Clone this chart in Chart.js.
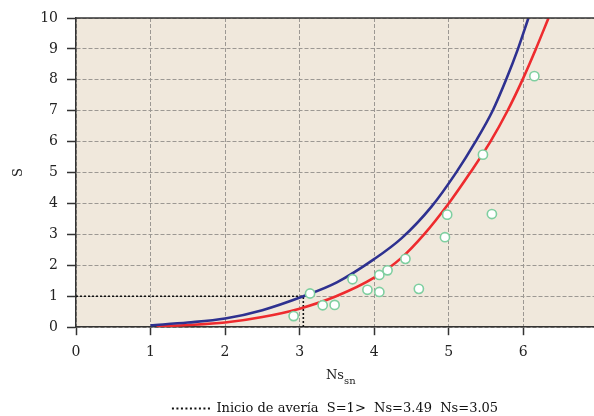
<!DOCTYPE html>
<html>
<head>
<meta charset="utf-8">
<script src="https://cdn.jsdelivr.net/npm/chart.js@4/dist/chart.umd.min.js"></script>
<style>
  html, body { margin: 0; padding: 0; background: #ffffff; overflow: hidden; }
  #wrap { width: 594px; height: 416px; position: relative; }
</style>
</head>
<body>
<div id="wrap"><canvas id="grafico" width="594" height="416"></canvas></div>
<script>
// Curva de avería (azul)
const azulNs = [1.0, 1.5, 2.0, 2.5, 3.05, 3.5, 4.0, 4.37, 4.77, 5.1, 5.36, 5.59, 5.77, 5.93, 6.07];
const azulS  = [0.06, 0.15, 0.28, 0.55, 1.0, 1.45, 2.2, 2.88, 3.9, 5.0, 6.0, 7.0, 8.0, 9.0, 10.0];

// Curva de avería (roja)
const rojaNs = [1.08, 1.5, 2.0, 2.5, 3.0, 3.49, 4.0, 4.37, 4.67, 5.0, 5.29, 5.56, 5.79, 5.99, 6.17, 6.34];
const rojaS  = [0.03, 0.07, 0.15, 0.33, 0.6, 1.0, 1.6, 2.25, 3.0, 4.0, 5.0, 6.0, 7.0, 8.0, 9.0, 10.0];

// Ensayos medidos
const ensayoNs = [2.92, 3.14, 3.31, 3.47, 3.71, 3.91, 4.07, 4.07, 4.18, 4.42, 4.60, 4.95, 4.98, 5.58, 5.46, 6.15];
const ensayoS  = [0.36, 1.09, 0.71, 0.72, 1.55, 1.21, 1.69, 1.14, 1.84, 2.21, 1.24, 2.91, 3.64, 3.66, 5.58, 8.12];

// Inicio de avería
const inicioNs = [0, 3.05, 3.05];
const inicioS  = [1, 1, 0];

const xTicks = [0, 1, 2, 3, 4, 5, 6];
const yTicks = [0, 1, 2, 3, 4, 5, 6, 7, 8, 9, 10];

const etiquetaInicio = 'Inicio de avería  S=1>  Ns=3.49  Ns=3.05';

const pares = (xs, ys) => xs.map((x, i) => ({ x: x, y: ys[i] }));

const FUENTE = '"DejaVu Serif", "Liberation Serif", serif';
const FONDO = '#f0e8dc';
const EJE = '#333333';
const REJILLA = '#9c9893';
const TITULO_PAD_INF = 20;
const TITULO_ALTO = 12;

const marco = {
  id: 'marco',
  beforeDraw(chart) {
    const { ctx, chartArea: a } = chart;
    ctx.save();
    ctx.fillStyle = FONDO;
    ctx.fillRect(a.left, a.top, a.right - a.left, a.bottom - a.top);
    ctx.restore();
  },
  afterDraw(chart) {
    const { ctx, chartArea: a } = chart;
    // borde superior
    ctx.save();
    ctx.strokeStyle = EJE;
    ctx.lineWidth = 1.5;
    ctx.beginPath();
    ctx.moveTo(a.left, a.top);
    ctx.lineTo(a.right, a.top);
    ctx.stroke();
    // título del eje x con subíndice: Ns_sn
    const ex = chart.scales.x;
    const yTxt = ex.bottom - TITULO_PAD_INF - TITULO_ALTO / 2;
    const cx = (a.left + a.right) / 2;
    ctx.fillStyle = '#222222';
    ctx.textBaseline = 'middle';
    ctx.textAlign = 'left';
    ctx.font = '13px ' + FUENTE;
    const w = ctx.measureText('Ns').width;
    ctx.fillText('Ns', cx - w / 2, yTxt);
    ctx.font = '10px ' + FUENTE;
    ctx.fillText('sn', cx + w / 2, yTxt + 5);
    ctx.restore();
  }
};

new Chart(document.getElementById('grafico'), {
  type: 'scatter',
  data: {
    datasets: [
      {
        label: etiquetaInicio,
        data: pares(inicioNs, inicioS),
        showLine: true,
        borderColor: '#111111',
        backgroundColor: '#111111',
        borderWidth: 1.6,
        borderDash: [2, 2],
        pointRadius: 0,
        order: 3
      },
      {
        label: 'azul',
        data: pares(azulNs, azulS),
        showLine: true,
        borderColor: '#2e3190',
        borderWidth: 2.6,
        pointRadius: 0,
        cubicInterpolationMode: 'monotone',
        order: 2
      },
      {
        label: 'roja',
        data: pares(rojaNs, rojaS),
        showLine: true,
        borderColor: '#ee2b2e',
        borderWidth: 2.6,
        pointRadius: 0,
        cubicInterpolationMode: 'monotone',
        order: 2
      },
      {
        label: 'ensayos',
        data: pares(ensayoNs, ensayoS),
        showLine: false,
        pointRadius: 4.6,
        pointBorderWidth: 1.6,
        pointBorderColor: '#7fcfa0',
        pointBackgroundColor: '#ffffff',
        order: 1
      }
    ]
  },
  options: {
    responsive: false,
    animation: false,
    layout: { autoPadding: false, padding: { left: 0, right: 0, top: 18, bottom: -9 } },
    scales: {
      x: {
        type: 'linear',
        min: 0,
        max: 6.95,
        afterBuildTicks: (s) => { s.ticks = xTicks.map(v => ({ value: v })); },
        afterFit: (s) => { s.paddingRight = 0; s.paddingLeft = 0; },
        ticks: { font: { family: FUENTE, size: 14 }, color: '#222222', padding: 9 },
        grid: { color: REJILLA, lineWidth: 1, tickColor: EJE, tickLength: 8, tickWidth: 1.5, tickBorderDash: [] },
        border: { color: EJE, width: 1.5, dash: [4, 2] },
        title: { display: true, text: 'Ns', color: 'rgba(0,0,0,0)', font: { family: FUENTE, size: 13, lineHeight: TITULO_ALTO / 13 }, padding: { top: 0, bottom: TITULO_PAD_INF } }
      },
      y: {
        type: 'linear',
        min: 0,
        max: 10,
        afterBuildTicks: (s) => { s.ticks = yTicks.map(v => ({ value: v })); },
        afterFit: (s) => { s.width = 76; },
        ticks: { font: { family: FUENTE, size: 14 }, color: '#222222', padding: 9 },
        grid: { color: REJILLA, lineWidth: 1, tickColor: EJE, tickLength: 9, tickWidth: 1.5, tickBorderDash: [] },
        border: { color: EJE, width: 1.5, dash: [4, 2] },
        title: { display: true, text: 'S', color: '#222222', font: { family: FUENTE, size: 13 }, padding: { top: 11, bottom: 0 } }
      }
    },
    plugins: {
      legend: {
        position: 'bottom',
        fullSize: false,
        labels: {
          generateLabels: () => [{
            text: etiquetaInicio,
            fillStyle: '#111111',
            strokeStyle: '#111111',
            fontColor: '#111111',
            lineWidth: 2,
            lineDash: [2, 2.5],
            pointStyle: 'line',
            hidden: false,
            datasetIndex: 0
          }],
          usePointStyle: true,
          pointStyle: 'line',
          pointStyleWidth: 38,
          boxHeight: 10,
          color: '#111111',
          font: { family: FUENTE, size: 13 },
          padding: 0
        }
      },
      tooltip: { enabled: false }
    }
  },
  plugins: [marco]
});
</script>
</body>
</html>
